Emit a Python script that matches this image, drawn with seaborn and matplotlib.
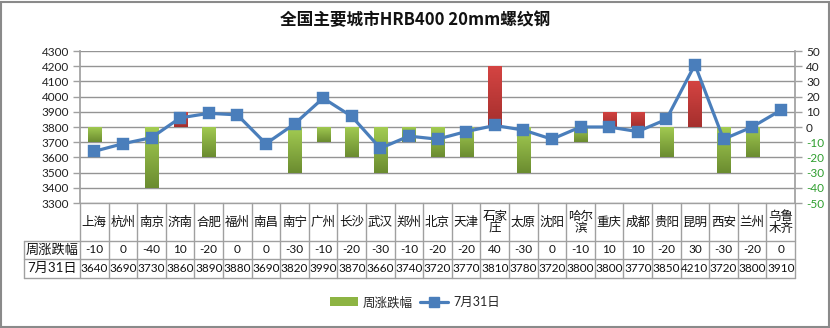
import numpy as np
import pandas as pd
import matplotlib
matplotlib.use("Agg")
import matplotlib.pyplot as plt
import seaborn as sns
from matplotlib.colors import LinearSegmentedColormap
from matplotlib.lines import Line2D
from matplotlib.patches import Patch, Rectangle
from matplotlib.transforms import blended_transform_factory

# ---------------- data ----------------
cities = ["上海", "杭州", "南京", "济南", "合肥", "福州", "南昌", "南宁", "广州", "长沙",
          "武汉", "郑州", "北京", "天津", "石家庄", "太原", "沈阳", "哈尔滨", "重庆", "成都",
          "贵阳", "昆明", "西安", "兰州", "乌鲁木齐"]
city_labels = ["上海", "杭州", "南京", "济南", "合肥", "福州", "南昌", "南宁", "广州", "长沙",
               "武汉", "郑州", "北京", "天津", "石家\n庄", "太原", "沈阳", "哈尔\n滨", "重庆", "成都",
               "贵阳", "昆明", "西安", "兰州", "乌鲁\n木齐"]
weekly_change = [-10, 0, -40, 10, -20, 0, 0, -30, -10, -20, -30, -10, -20, -20, 40, -30, 0,
                 -10, 10, 10, -20, 30, -30, -20, 0]
price_0731 = [3640, 3690, 3730, 3860, 3890, 3880, 3690, 3820, 3990, 3870, 3660, 3740, 3720,
              3770, 3810, 3780, 3720, 3800, 3800, 3770, 3850, 4210, 3720, 3800, 3910]
left_ticks = list(range(3300, 4301, 100))
right_ticks = list(range(-50, 51, 10))
series_bar = "周涨跌幅"
series_line = "7月31日"
title = "全国主要城市HRB400 20mm螺纹钢"

df = pd.DataFrame({"city": cities, "change": weekly_change, "price": price_0731})

# ---------------- style ----------------
sns.set_theme(style="white")
plt.rcParams["font.family"] = ["Lato", "Noto Sans CJK SC", "DejaVu Sans"]
plt.rcParams["axes.unicode_minus"] = False

W, H = 830, 328
fig = plt.figure(figsize=(W / 100, H / 100), dpi=100)
fig.patch.set_facecolor("white")

x0, x1, ytop, ybot = 80, 795, 51, 203
ax2 = fig.add_axes([x0 / W, 1 - ybot / H, (x1 - x0) / W, (ybot - ytop) / H])
ax = ax2.twinx()

line_color = "#4A7EBB"
grid_color = "#949494"
frame_color = "#A0A0A0"

# bars on right axis
sns.barplot(data=df, x="city", y="change", ax=ax2, width=0.46, color="#9BBB59",
            errorbar=None, linewidth=0, zorder=3)
ax2.set_ylim(-50, 50)
ax2.set_yticks(right_ticks)
ax2.yaxis.tick_right()
ax2.yaxis.set_label_position("right")
ax2.grid(axis="y", color=grid_color, linewidth=1.0, zorder=0)
ax2.set_axisbelow(True)

green_cmap = LinearSegmentedColormap.from_list("g", ["#A3CC52", "#6B8C30"])
red_cmap = LinearSegmentedColormap.from_list("r", ["#D44442", "#A52F2D"])
grad = np.linspace(0, 1, 100).reshape(-1, 1)
for patch, val in zip(ax2.patches, weekly_change):
    if val == 0:
        patch.set_visible(False)
        continue
    bx, by = patch.get_x(), patch.get_y()
    bw, bh = patch.get_width(), patch.get_height()
    lo, hi = min(by, by + bh), max(by, by + bh)
    cmap = red_cmap if val > 0 else green_cmap
    patch.set_facecolor("none")
    im = ax2.imshow(grad, cmap=cmap, aspect="auto", origin="upper",
                    extent=(bx, bx + bw, lo, hi), zorder=3, interpolation="bilinear")
    im.set_clip_path(patch)
ax2.set_xlim(-0.5, len(cities) - 0.5)
ax2.set_ylim(-50, 50)

# line on left axis
sns.pointplot(data=df, x="city", y="price", ax=ax, color=line_color, markers="s",
              markersize=6.5, linewidth=2.3, errorbar=None, zorder=5)
ax.set_ylim(3300, 4300)
ax.set_yticks(left_ticks)
ax.yaxis.tick_left()
ax.set_xlim(-0.5, len(cities) - 0.5)
ax.grid(False)
ax.set_zorder(ax2.get_zorder() + 1)
ax.patch.set_visible(False)

for a in (ax, ax2):
    a.set_xlabel("")
    a.set_ylabel("")
    a.set_xticks([])
    for s in a.spines.values():
        s.set_visible(False)

ax.spines["left"].set_visible(True)
ax.spines["left"].set_color(frame_color)
ax.spines["right"].set_visible(True)
ax.spines["right"].set_color(frame_color)
ax.tick_params(axis="y", which="both", left=True, right=False, length=5, width=1,
               color=frame_color, labelsize=8.5, labelcolor="#222222", pad=3)
ax2.tick_params(axis="y", which="both", right=True, left=False, length=5, width=1,
                color=frame_color, labelsize=8.5, pad=3)
for lbl, v in zip(ax2.get_yticklabels(), right_ticks):
    lbl.set_color("#2E9E2E" if v < 0 else "#222222")

# ---------------- data table ----------------
tr = blended_transform_factory(ax.transData, ax.transAxes)
ph = ybot - ytop
def ay(py):
    return (ybot - py) / ph

row_y = [203, 240.7, 258.5, 278]
label_left = (24 - x0) / (x1 - x0)
n = len(cities)
lkw = dict(color=frame_color, linewidth=1, clip_on=False)
for i in range(n + 1):
    ax.plot([i - 0.5, i - 0.5], [ay(row_y[0]), ay(row_y[3])], transform=tr, **lkw)
ax.plot([-0.5, n - 0.5], [ay(row_y[0]), ay(row_y[0])], transform=tr, **lkw)
for yy in row_y[1:]:
    ax.plot([label_left, 1], [ay(yy), ay(yy)], transform=ax.transAxes, **lkw)
ax.plot([label_left, label_left], [ay(row_y[1]), ay(row_y[3])], transform=ax.transAxes, **lkw)

for i, (lab, ch, pr) in enumerate(zip(city_labels, weekly_change, price_0731)):
    ax.text(i, ay((row_y[0] + row_y[1]) / 2), lab, transform=tr, ha="center", va="center",
            fontsize=9, linespacing=1.0, color="#111111", clip_on=False)
    ax.text(i, ay((row_y[1] + row_y[2]) / 2), str(ch), transform=tr, ha="center", va="center",
            fontsize=8.5, color="#111111", clip_on=False)
    ax.text(i, ay((row_y[2] + row_y[3]) / 2), str(pr), transform=tr, ha="center", va="center",
            fontsize=8.5, color="#111111", clip_on=False)
ax.text((label_left + 0) / 2, ay((row_y[1] + row_y[2]) / 2), series_bar, transform=ax.transAxes,
        ha="center", va="center", fontsize=9.5, color="#111111", clip_on=False)
ax.text((label_left + 0) / 2, ay((row_y[2] + row_y[3]) / 2), series_line, transform=ax.transAxes,
        ha="center", va="center", fontsize=9.5, color="#111111", clip_on=False)

# ---------------- title / legend / border ----------------
fig.text(415 / W, 1 - 20 / H, title, ha="center", va="center", fontsize=12,
         fontweight="bold", family=["Noto Sans CJK SC", "DejaVu Sans"], color="#111111")

handles = [Patch(facecolor="#8DB443", edgecolor="none"),
           Line2D([0], [0], color=line_color, linewidth=2.3, marker="s", markersize=6.5)]
fig.legend(handles, [series_bar, series_line], loc="center", bbox_to_anchor=(415 / W, 1 - 302 / H),
           ncol=2, frameon=False, fontsize=9, handlelength=2.2, handletextpad=0.4,
           columnspacing=0.6)

fig.patches.append(Rectangle((1 / W, 1 / H), 1 - 2.5 / W, 1 - 2.5 / H, transform=fig.transFigure,
                             fill=False, edgecolor="#8A8A8A", linewidth=1.5))

fig.savefig("out.png", dpi=100)
